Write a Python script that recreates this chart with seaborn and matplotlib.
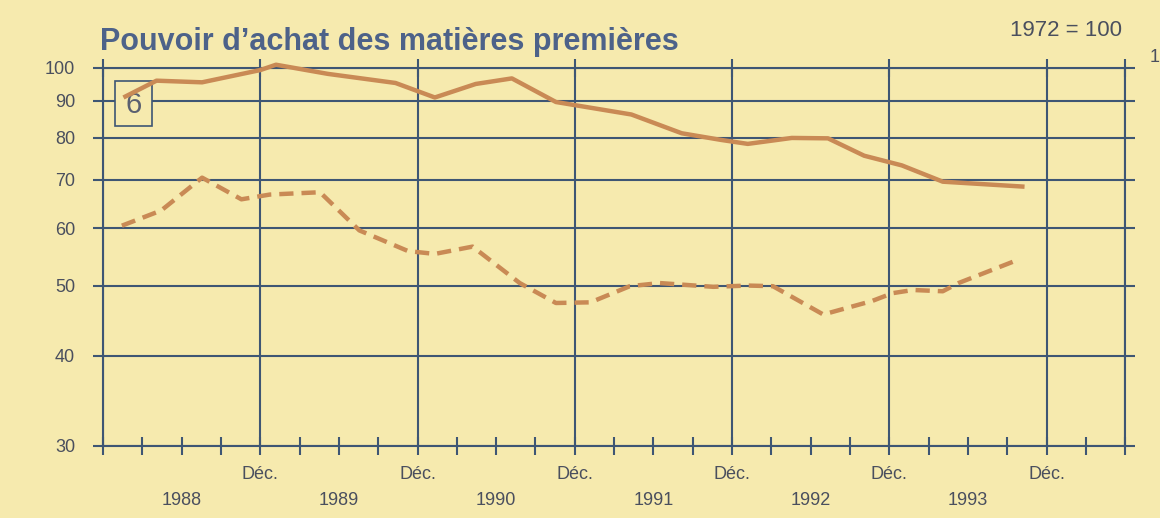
import pandas as pd
import seaborn as sns
import matplotlib.pyplot as plt
from matplotlib.patches import Rectangle
from matplotlib.ticker import FixedLocator, NullFormatter

sns.set_theme(style="white")
plt.rcParams['font.family'] = ['Liberation Sans', 'DejaVu Sans']

# ---------------------------------------------------------
# Data (time in decimal years, log scale values)
# ---------------------------------------------------------
t_solid = [1988.13, 1988.34, 1988.63, 1989.0, 1989.1, 1989.43, 1989.86, 1990.11,
           1990.37, 1990.6, 1990.88, 1991.36, 1991.68, 1991.93, 1992.1, 1992.38,
           1992.61, 1992.84, 1993.08, 1993.34, 1993.86]
v_solid = [91, 96, 95.5, 99.3, 101, 98.1, 95.3, 91,
           95, 96.7, 89.7, 86.2, 81.2, 79.5, 78.5, 80,
           79.9, 75.6, 73.3, 69.6, 68.5]

t_dash = [1988.12, 1988.37, 1988.63, 1988.88, 1989.06, 1989.38, 1989.63, 1989.94,
          1990.11, 1990.35, 1990.65, 1990.88, 1991.1, 1991.35, 1991.54, 1991.71,
          1991.88, 1992.1, 1992.26, 1992.58, 1992.89, 1993.02, 1993.15, 1993.34,
          1993.44, 1993.83]
v_dash = [60.5, 63.5, 70.5, 65.8, 66.8, 67.3, 59.6, 55.8,
          55.3, 56.6, 50.4, 47.3, 47.4, 49.9, 50.4, 50.1,
          49.8, 50.0, 49.9, 45.6, 47.6, 48.8, 49.3, 49.1,
          50.4, 54.4]

y_ticks = [30, 40, 50, 60, 70, 80, 90, 100]
dec_ticks = [1989, 1990, 1991, 1992, 1993, 1994]
years = [1988, 1989, 1990, 1991, 1992, 1993]
quarters = [1988 + q / 4 for q in range(0, 27)]

df_solid = pd.DataFrame({'t': t_solid, 'v': v_solid})
df_dash = pd.DataFrame({'t': t_dash, 'v': v_dash})

bg = '#F6EAAE'
grid_c = '#3E5674'
line_c = '#C98A55'
txt_c = '#4A4F5E'

fig = plt.figure(figsize=(11.6, 5.18), dpi=100, facecolor=bg)
ax = fig.add_axes([0.0888, 0.139, 0.8812, 0.730])
ax.set_facecolor(bg)

sns.lineplot(data=df_solid, x='t', y='v', ax=ax, color=line_c, linewidth=3.2,
             clip_on=False, zorder=4, solid_capstyle='butt')
sns.lineplot(data=df_dash, x='t', y='v', ax=ax, color=line_c, linewidth=3.2,
             dashes=(3.2, 1.8), clip_on=False, zorder=4)

ax.set_yscale('log')
ax.set_ylim(30, 100)
ax.set_xlim(1988, 1994.5)

# y axis: gridlines at each ten, ticks sticking out both sides
ax.set_yticks(y_ticks, [str(v) for v in y_ticks])
ax.yaxis.set_minor_locator(FixedLocator([]))
ax.yaxis.set_minor_formatter(NullFormatter())
ax.tick_params(axis='y', which='major', left=True, right=True, direction='out',
               length=7, width=1.5, color=grid_c, labelsize=13, labelcolor=txt_c, pad=13)

# x axis: vertical lines at each December, quarterly cross ticks
ax.set_xticks([1988] + dec_ticks + [1994.5], [''] + ['Déc.'] * len(dec_ticks) + [''])
ax.xaxis.set_minor_locator(FixedLocator([q for q in quarters if q not in dec_ticks + [1988]] + [1994.5]))
ax.tick_params(axis='x', which='major', bottom=True, top=True, direction='inout',
               length=13, width=1.5, color=grid_c, labelsize=13, labelcolor=txt_c, pad=8)
ax.tick_params(axis='x', which='minor', bottom=True, top=False, direction='inout',
               length=13, width=1.5, color=grid_c)

for yr in years:
    ax.annotate(str(yr), xy=(yr + 0.5, 0), xycoords=('data', 'axes fraction'),
                xytext=(0, -33), textcoords='offset points', ha='center', va='top',
                fontsize=13, color=txt_c)

ax.grid(True, which='major', color=grid_c, linewidth=1.5)
ax.set_axisbelow(True)
for s in ax.spines.values():
    s.set_color(grid_c)
    s.set_linewidth(1.5)
    s.set_visible(True)

ax.set_xlabel('')
ax.set_ylabel('')

# chart number box
ax.add_patch(Rectangle((0.012, 0.847), 0.036, 0.119, transform=ax.transAxes,
                       facecolor=bg, edgecolor=grid_c, linewidth=1.2, zorder=3))
ax.text(0.030, 0.902, '6', transform=ax.transAxes, ha='center', va='center',
        fontsize=21, color='#5A6070', zorder=3)

fig.text(100 / 1160, 1 - 50 / 518, "Pouvoir d’achat des matières premières",
         fontsize=22, fontweight='bold', color='#4D6289', ha='left', va='baseline')
fig.text(1122 / 1160, 1 - 36 / 518, '1972 = 100', fontsize=16, color=txt_c,
         ha='right', va='baseline')
fig.text(1150 / 1160, 1 - 62 / 518, '1', fontsize=13, color=txt_c,
         ha='left', va='baseline')

fig.savefig('out.png', dpi=100, facecolor=bg)
